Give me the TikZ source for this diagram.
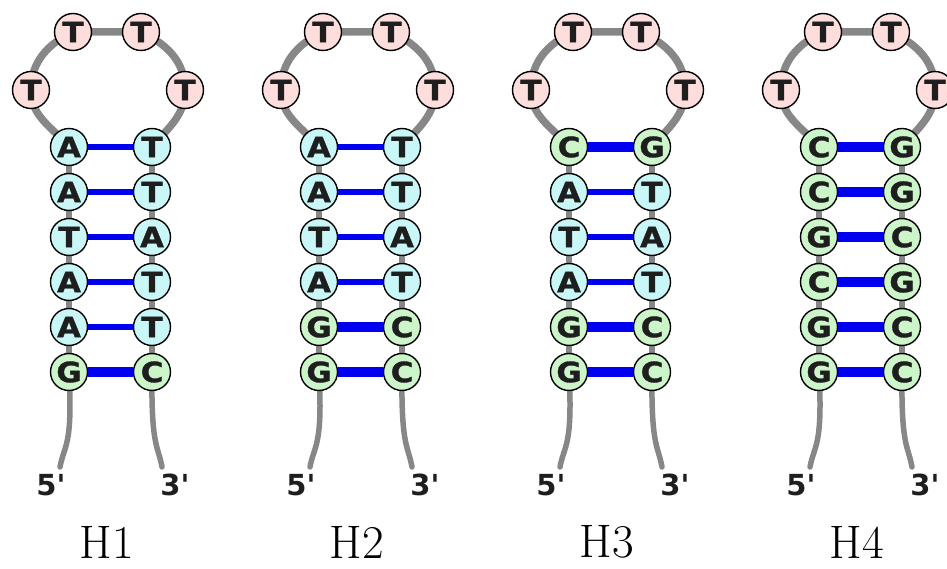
\documentclass[tikz,border=0pt]{standalone}
\usepackage{fontspec}
\newfontfamily\dvs{DejaVu Sans}
\newfontfamily\heavy{DejaVu Sans}[BoldFeatures={FakeBold=1.2,FakeStretch=1.1}]
\usetikzlibrary{backgrounds}

\definecolor{loopfill}{HTML}{FDDEDD}
\definecolor{atfill}{HTML}{C9F7F8}
\definecolor{gcfill}{HTML}{CDF5CA}
\definecolor{strand}{HTML}{878787}
\definecolor{bondblue}{HTML}{0000F0}
\definecolor{ink}{HTML}{1E1E1E}

\tikzset{
  base/.style={circle, draw=black, line width=1.4pt, minimum size=37pt,
    inner sep=0pt, text=ink, font=\heavy\bfseries\fontsize{28}{28}\selectfont},
  nT/.style={base, fill=atfill},
  nA/.style={base, fill=atfill},
  nG/.style={base, fill=gcfill},
  nC/.style={base, fill=gcfill},
  nL/.style={base, fill=loopfill},
  bondA/.style={draw=bondblue, line width=6pt},
  bondT/.style={draw=bondblue, line width=6pt},
  bondG/.style={draw=bondblue, line width=10pt},
  bondC/.style={draw=bondblue, line width=10pt},
  loopline/.style={draw=strand, line width=7.5pt},
  backbone/.style={draw=strand, line width=6pt},
  tailline/.style={draw=strand, line width=5.5pt, line cap=round},
  endlabel/.style={text=ink, font=\dvs\bfseries\fontsize{29}{29}\selectfont},
  namelabel/.style={inner sep=0pt, font=\fontsize{47}{52}\selectfont}
}

\begin{document}
\begin{tikzpicture}[x=1pt,y=1pt]
\useasboundingbox (0,0) rectangle (947,568);
\clip (0,0) rectangle (947,568);

\foreach \k/\lab/\seq in {
  0/H1/{A/T,A/T,T/A,A/T,A/T,G/C},
  1/H2/{A/T,A/T,T/A,A/T,G/C,G/C},
  2/H3/{C/G,A/T,T/A,A/T,G/C,G/C},
  3/H4/{C/G,C/G,G/C,C/G,G/C,G/C}} {
  \pgfmathsetmacro{\xo}{69+250*\k}
  % stem base pairs
  \foreach \a/\b [count=\i] in \seq {
    \pgfmathsetmacro{\yy}{466-45*\i}
    \node[n\a] (l\k-\i) at (\xo,\yy) {\a};
    \node[n\b] (r\k-\i) at (\xo+83,\yy) {\b};
    \begin{pgfonlayer}{background}
      \draw[bond\a] (l\k-\i) -- (r\k-\i);
    \end{pgfonlayer}
  }
  % loop of four T
  \node[nL] (t\k-1) at (\xo-38,478) {T};
  \node[nL] (t\k-2) at (\xo+4,536) {T};
  \node[nL] (t\k-3) at (\xo+72,536) {T};
  \node[nL] (t\k-4) at (\xo+116,478) {T};
  % free ends of the strands
  \coordinate (e\k-5) at (\xo-9,101);
  \coordinate (e\k-3) at (\xo+93,101);
  \begin{pgfonlayer}{background}
    \draw[loopline] (l\k-1.center) to[out=130,in=-90] (t\k-1.center)
      to[out=90,in=205] (t\k-2.center) -- (t\k-3.center)
      to[out=-25,in=90] (t\k-4.center) to[out=-90,in=50] (r\k-1.center);
    \draw[backbone] (l\k-1.center) -- (l\k-6.center);
    \draw[backbone] (r\k-1.center) -- (r\k-6.center);
    \draw[tailline] (l\k-6.center) .. controls +(4,-75) and +(4,22) .. (e\k-5);
    \draw[tailline] (r\k-6.center) .. controls +(-1,-75) and +(-4,22) .. (e\k-3);
  \end{pgfonlayer}
  \node[endlabel] (p\k-5) at (\xo-18,83) {5\textquotesingle};
  \node[endlabel] (p\k-3) at (\xo+106,83) {3\textquotesingle};
  \node[namelabel] (h\k) at (\xo+38,26) {\lab};
}
\end{tikzpicture}
\end{document}
